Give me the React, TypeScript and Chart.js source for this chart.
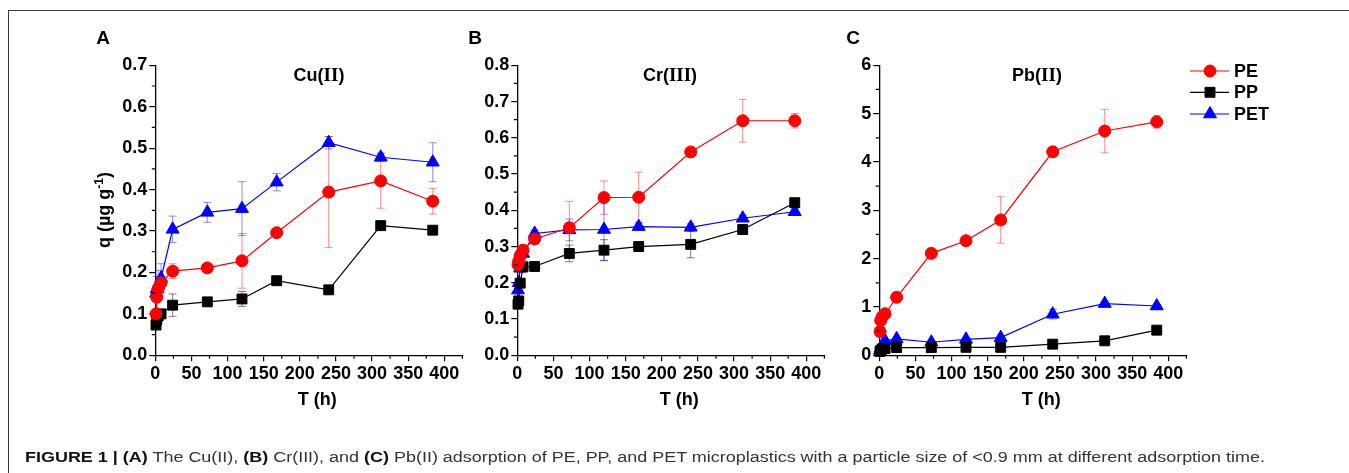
import React, { useEffect, useRef } from "react";
import { Chart, registerables } from "chart.js";

Chart.register(...registerables);

const SANS = "'Liberation Sans', Arial, Helvetica, sans-serif";
const SERIF = "'Liberation Serif', 'Times New Roman', serif";

// ---------- data ----------
const times = [1, 2, 4, 8, 24, 72, 120, 168, 240, 312, 384];
const xTicks = [0, 50, 100, 150, 200, 250, 300, 350, 400];
const seriesNames = ["PE", "PP", "PET"];

// Cu(II)
const cuPE = [0.1, 0.14, 0.16, 0.175, 0.203, 0.211, 0.228, 0.296, 0.394, 0.421, 0.372];
const cuPEErr = [0.005, 0.01, 0.01, 0.012, 0.018, 0.008, 0.066, 0.008, 0.134, 0.066, 0.031];
const cuPP = [0.073, 0.085, 0.095, 0.1, 0.121, 0.129, 0.136, 0.18, 0.158, 0.313, 0.302];
const cuPPErr = [0.005, 0.005, 0.008, 0.008, 0.027, 0.006, 0.018, 0.008, 0.006, 0.006, 0.006];
const cuPET = [0.15, 0.16, 0.17, 0.186, 0.304, 0.345, 0.354, 0.418, 0.513, 0.478, 0.466];
const cuPETErr = [0.02, 0.03, 0.035, 0.035, 0.032, 0.024, 0.065, 0.021, 0.015, 0.01, 0.047];
const cuYTicks = [0, 0.1, 0.2, 0.3, 0.4, 0.5, 0.6, 0.7];

// Cr(III)
const crPE = [0.25, 0.26, 0.275, 0.29, 0.321, 0.352, 0.435, 0.436, 0.561, 0.647, 0.647];
const crPEErr = [0.01, 0.01, 0.015, 0.015, 0.01, 0.073, 0.046, 0.069, 0.008, 0.059, 0.02];
const crPP = [0.141, 0.15, 0.199, 0.244, 0.245, 0.281, 0.29, 0.3, 0.306, 0.347, 0.421];
const crPPErr = [0.005, 0.005, 0.01, 0.01, 0.008, 0.023, 0.029, 0.008, 0.037, 0.008, 0.008];
const crPET = [0.18, 0.2, 0.24, 0.281, 0.336, 0.346, 0.347, 0.355, 0.353, 0.378, 0.396];
const crPETErr = [0.01, 0.01, 0.01, 0.015, 0.01, 0.03, 0.085, 0.01, 0.01, 0.008, 0.008];
const crYTicks = [0, 0.1, 0.2, 0.3, 0.4, 0.5, 0.6, 0.7, 0.8];

// Pb(II)
const pbPE = [0.49, 0.72, 0.8, 0.86, 1.2, 2.11, 2.37, 2.8, 4.21, 4.64, 4.83];
const pbPEErr = [0.05, 0.05, 0.05, 0.05, 0.1, 0.05, 0.05, 0.48, 0.05, 0.45, 0.13];
const pbPP = [0.08, 0.1, 0.13, 0.14, 0.16, 0.16, 0.165, 0.165, 0.23, 0.3, 0.52];
const pbPPErr = [0.02, 0.02, 0.02, 0.02, 0.02, 0.02, 0.02, 0.02, 0.02, 0.02, 0.02];
const pbPET = [0.1, 0.15, 0.2, 0.3, 0.34, 0.27, 0.33, 0.365, 0.85, 1.07, 1.02];
const pbPETErr = [0.02, 0.02, 0.02, 0.03, 0.03, 0.03, 0.03, 0.03, 0.1, 0.03, 0.03];
const pbYTicks = [0, 1, 2, 3, 4, 5, 6];

// ---------- styling ----------
const colors = ["#ff0000", "#000000", "#0000ff"];
const errColors = ["rgba(255,0,0,0.45)", "rgba(0,0,0,0.5)", "rgba(0,0,255,0.45)"];
const pointStyles = ["circle", "rect", "triangle"];
const pointRadii = [6, 7, 7.5];

const W = 1349;
const H = 473;
const PLOT_TOP = 65.3;
const PLOT_BOTTOM = 355.3;
const X_MAX = 425;
const PX_PER_UNIT = 0.7225;
const Y_W = 60;
const X_H = 30;

type Panel = {
  letter: string;
  letterX: number;
  plotLeft: number;
  yTicks: number[];
  decimals: number;
  values: number[][];
  errors: number[][];
  title: { t: string; serif: boolean }[];
  titleX: number;
  yTitle: boolean;
  legend: boolean;
};

const panels: Panel[] = [
  {
    letter: "A", letterX: 103, plotLeft: 155.3, yTicks: cuYTicks, decimals: 1,
    values: [cuPE, cuPP, cuPET], errors: [cuPEErr, cuPPErr, cuPETErr],
    title: [{ t: "Cu(", serif: false }, { t: "II", serif: true }, { t: ")", serif: false }],
    titleX: 319, yTitle: true, legend: false,
  },
  {
    letter: "B", letterX: 475, plotLeft: 517.3, yTicks: crYTicks, decimals: 1,
    values: [crPE, crPP, crPET], errors: [crPEErr, crPPErr, crPETErr],
    title: [{ t: "Cr(", serif: false }, { t: "III", serif: true }, { t: ")", serif: false }],
    titleX: 670, yTitle: false, legend: false,
  },
  {
    letter: "C", letterX: 853, plotLeft: 879.3, yTicks: pbYTicks, decimals: 0,
    values: [pbPE, pbPP, pbPET], errors: [pbPEErr, pbPPErr, pbPETErr],
    title: [{ t: "Pb(", serif: false }, { t: "II", serif: true }, { t: ")", serif: false }],
    titleX: 1037, yTitle: false, legend: true,
  },
];

function drawMarker(ctx: CanvasRenderingContext2D, style: string, x: number, y: number, r: number, color: string) {
  ctx.fillStyle = color;
  ctx.strokeStyle = color;
  ctx.lineWidth = 1;
  ctx.beginPath();
  if (style === "circle") {
    ctx.arc(x, y, r, 0, Math.PI * 2);
  } else if (style === "rect") {
    const s = Math.SQRT1_2 * r;
    ctx.rect(x - s, y - s, 2 * s, 2 * s);
  } else {
    const a = (2 * Math.PI) / 3;
    ctx.moveTo(x, y - r);
    ctx.lineTo(x + Math.sin(a) * r, y - Math.cos(a) * r);
    ctx.lineTo(x + Math.sin(2 * a) * r, y - Math.cos(2 * a) * r);
    ctx.closePath();
  }
  ctx.fill();
  ctx.stroke();
}

function makeConfig(p: Panel): any {
  const plotRight = p.plotLeft + X_MAX * PX_PER_UNIT;
  const yMax = p.yTicks[p.yTicks.length - 1];
  const yStep = p.yTicks[1] - p.yTicks[0];
  const tickFont = { family: SANS, size: 18, weight: "bold" as const };

  const decor = {
    id: "decor" + p.letter,
    beforeDatasetsDraw(chart: any) {
      const ctx: CanvasRenderingContext2D = chart.ctx;
      const ys = chart.scales.y;
      ctx.save();
      p.values.forEach((vals, si) => {
        const meta = chart.getDatasetMeta(si);
        ctx.strokeStyle = errColors[si];
        ctx.lineWidth = 1;
        vals.forEach((v, j) => {
          const e = p.errors[si][j];
          const el = meta.data[j];
          if (!el || !e) return;
          const x = el.x;
          const y1 = ys.getPixelForValue(v + e);
          const y2 = ys.getPixelForValue(v - e);
          ctx.beginPath();
          ctx.moveTo(x, y1);
          ctx.lineTo(x, y2);
          ctx.moveTo(x - 4, y1);
          ctx.lineTo(x + 4, y1);
          ctx.moveTo(x - 4, y2);
          ctx.lineTo(x + 4, y2);
          ctx.stroke();
        });
      });
      ctx.restore();
    },
    afterDraw(chart: any) {
      const ctx: CanvasRenderingContext2D = chart.ctx;
      const xs = chart.scales.x;
      const ys = chart.scales.y;
      const area = chart.chartArea;
      ctx.save();
      // minor ticks
      ctx.strokeStyle = "#000";
      ctx.lineWidth = 1.2;
      ctx.beginPath();
      for (let v = 25; v <= X_MAX; v += 50) {
        const px = xs.getPixelForValue(v);
        ctx.moveTo(px, area.bottom);
        ctx.lineTo(px, area.bottom + 3.5);
      }
      for (let i = 0; i < p.yTicks.length - 1; i++) {
        const py = ys.getPixelForValue(p.yTicks[i] + yStep / 2);
        ctx.moveTo(area.left, py);
        ctx.lineTo(area.left - 3.5, py);
      }
      ctx.stroke();

      ctx.fillStyle = "#000";
      // panel letter
      ctx.font = `bold 19px ${SANS}`;
      ctx.textAlign = "center";
      ctx.textBaseline = "middle";
      ctx.fillText(p.letter, p.letterX, 39);

      // panel title (mixed fonts)
      ctx.textAlign = "left";
      ctx.textBaseline = "alphabetic";
      const fontFor = (serif: boolean) => (serif ? `bold 19px ${SERIF}` : `bold 18px ${SANS}`);
      let tw = 0;
      p.title.forEach((part) => {
        ctx.font = fontFor(part.serif);
        tw += ctx.measureText(part.t).width;
      });
      let tx = p.titleX - tw / 2;
      p.title.forEach((part) => {
        ctx.font = fontFor(part.serif);
        ctx.fillText(part.t, tx, 80.5);
        tx += ctx.measureText(part.t).width;
      });

      // x-axis title
      ctx.font = `bold 18px ${SANS}`;
      ctx.textAlign = "center";
      ctx.textBaseline = "middle";
      ctx.fillText("T (h)", p.plotLeft + 162, 400);

      // y-axis title
      if (p.yTitle) {
        ctx.save();
        ctx.translate(104, 210);
        ctx.rotate(-Math.PI / 2);
        ctx.textAlign = "left";
        ctx.textBaseline = "alphabetic";
        const parts = [
          { t: "q (\u00b5g g", f: `bold 18px ${SANS}`, dy: 0 },
          { t: "-1", f: `bold 12px ${SANS}`, dy: -7 },
          { t: ")", f: `bold 18px ${SANS}`, dy: 0 },
        ];
        let total = 0;
        parts.forEach((pt) => {
          ctx.font = pt.f;
          total += ctx.measureText(pt.t).width;
        });
        let cx = -total / 2;
        parts.forEach((pt) => {
          ctx.font = pt.f;
          ctx.fillText(pt.t, cx, 6 + pt.dy);
          cx += ctx.measureText(pt.t).width;
        });
        ctx.restore();
      }

      // legend
      if (p.legend) {
        const rows = [71, 92.3, 114];
        seriesNames.forEach((name, si) => {
          const y = rows[si];
          ctx.strokeStyle = colors[si];
          ctx.lineWidth = 1.2;
          ctx.beginPath();
          ctx.moveTo(1190, y);
          ctx.lineTo(1229, y);
          ctx.stroke();
          drawMarker(ctx, pointStyles[si], 1210, y, pointRadii[si], colors[si]);
          ctx.fillStyle = "#000";
          ctx.font = `bold 18px ${SANS}`;
          ctx.textAlign = "left";
          ctx.textBaseline = "middle";
          ctx.fillText(name, 1234, y + 1);
        });
      }
      ctx.restore();
    },
  };

  return {
    type: "scatter",
    data: {
      datasets: p.values.map((vals, si) => ({
        label: seriesNames[si],
        data: vals.map((v, j) => ({ x: times[j], y: v })),
        showLine: true,
        borderColor: colors[si],
        backgroundColor: colors[si],
        borderWidth: 1.2,
        pointStyle: pointStyles[si],
        pointRadius: pointRadii[si],
        pointBorderWidth: 1,
        tension: 0,
        clip: false,
      })),
    },
    options: {
      responsive: false,
      animation: false,
      devicePixelRatio: 1,
      events: [],
      layout: {
        padding: {
          left: p.plotLeft - Y_W,
          right: W - plotRight,
          top: PLOT_TOP,
          bottom: H - PLOT_BOTTOM - X_H,
        },
      },
      plugins: { legend: { display: false }, tooltip: { enabled: false }, title: { display: false } },
      scales: {
        x: {
          type: "linear",
          min: 0,
          max: X_MAX,
          afterFit: (s: any) => { s.height = X_H; },
          afterBuildTicks: (s: any) => { s.ticks = xTicks.map((v) => ({ value: v })); },
          grid: { drawOnChartArea: false, drawTicks: true, tickLength: 6, color: "#000", lineWidth: 1.2 },
          border: { display: true, color: "#000", width: 1.3 },
          ticks: { font: tickFont, color: "#000", padding: 2, autoSkip: false, maxRotation: 0, minRotation: 0 },
        },
        y: {
          type: "linear",
          min: 0,
          max: yMax,
          afterFit: (s: any) => { s.width = Y_W; },
          afterBuildTicks: (s: any) => { s.ticks = p.yTicks.map((v) => ({ value: v })); },
          grid: { drawOnChartArea: false, drawTicks: true, tickLength: 6, color: "#000", lineWidth: 1.2 },
          border: { display: true, color: "#000", width: 1.3 },
          ticks: {
            font: tickFont,
            color: "#000",
            padding: 2,
            autoSkip: false,
            callback: (v: any) => Number(v).toFixed(p.decimals),
          },
        },
      },
    },
    plugins: [decor],
  };
}

export default function App() {
  const r0 = useRef<HTMLCanvasElement>(null);
  const r1 = useRef<HTMLCanvasElement>(null);
  const r2 = useRef<HTMLCanvasElement>(null);
  const capRef = useRef<HTMLSpanElement>(null);
  const refs = [r0, r1, r2];

  useEffect(() => {
    const charts = panels.map((p, i) => new Chart(refs[i].current as HTMLCanvasElement, makeConfig(p)));
    const el = capRef.current;
    if (el) {
      el.style.transform = "none";
      const w = el.getBoundingClientRect().width;
      if (w > 0) el.style.transform = `scaleX(${1240 / w})`;
    }
    return () => charts.forEach((c) => c.destroy());
  }, []);

  return (
    <div style={{ position: "fixed", left: 0, top: 0, width: W, height: H, overflow: "hidden", background: "#fff" }}>
      <div
        style={{
          position: "absolute", left: 8, top: 10, width: 1400, height: 600,
          border: "1px solid #3a3a3a", boxSizing: "border-box",
        }}
      />
      {refs.map((r, i) => (
        <canvas key={i} ref={r} width={W} height={H}
          style={{ position: "absolute", left: 0, top: 0, width: W, height: H }} />
      ))}
      <span
        ref={capRef}
        style={{
          position: "absolute", left: 25, top: 449, whiteSpace: "nowrap", fontFamily: SANS,
          fontSize: 14, lineHeight: "16px", color: "#333", transformOrigin: "left top", display: "inline-block",
        }}
      >
        <b style={{ color: "#111" }}>FIGURE 1 | (A)</b> The Cu(II), <b style={{ color: "#111" }}>(B)</b> Cr(III), and{" "}
        <b style={{ color: "#111" }}>(C)</b> Pb(II) adsorption of PE, PP, and PET microplastics with a particle size of &lt;0.9 mm at different adsorption time.
      </span>
    </div>
  );
}
